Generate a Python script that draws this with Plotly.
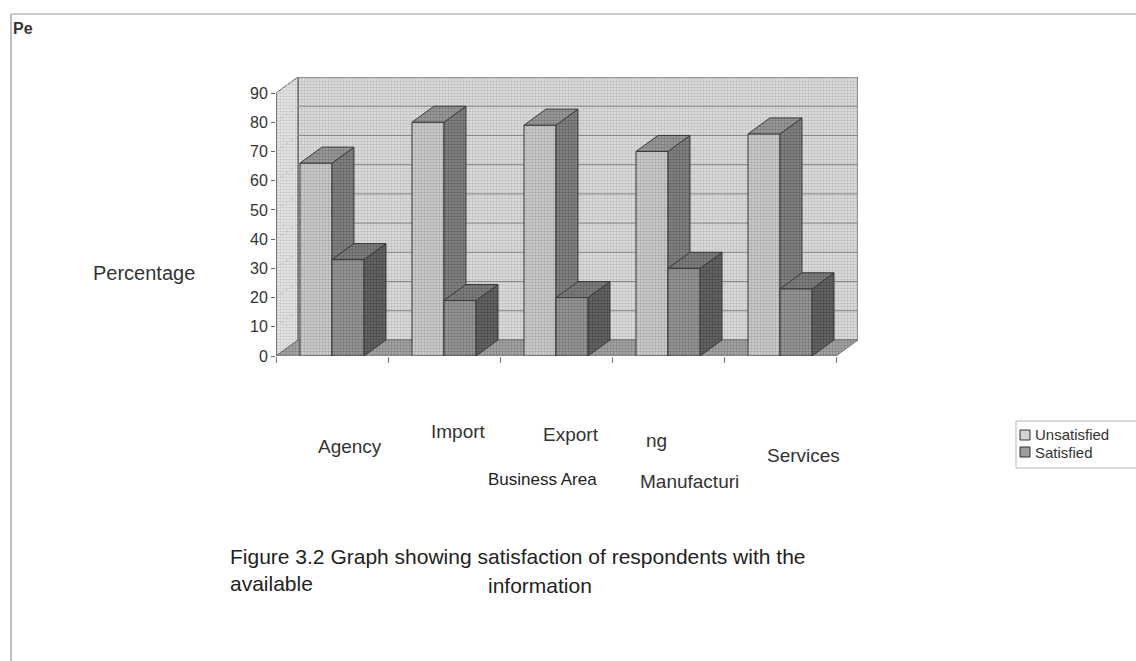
import plotly.graph_objects as go

# ---- data -------------------------------------------------------------
business_areas = ["Agency", "Import", "Export", "Manufacturing", "Services"]
unsatisfied = [66, 80, 79, 70, 76]
satisfied = [33, 19, 20, 30, 23]
series_names = ["Unsatisfied", "Satisfied"]
value_ticks = [0, 10, 20, 30, 40, 50, 60, 70, 80, 90]
# category captions as they are printed under the chart (one wraps)
axis_captions = ["Agency", "Import", "Export", "ng", "Services"]
wrapped_caption = "Manufacturi"

# ---- geometry of the pseudo-3D box -------------------------------------
W, H = 1136, 661
ML, MR, MT, MB = 276, 278, 77, 305
PW = W - ML - MR
PH = H - MT - MB
BAR_W = 0.286          # width of one bar, in category units
DX, DY = 0.196, 5.48   # depth offset (category units, value units)
VMAX = value_ticks[-1]
X0, X1 = -0.5, len(business_areas) - 0.5

FONT = "Liberation Sans, Arial, sans-serif"
EDGE = "#3a3a3a"


def px(xpix):
    return (xpix - ML) / PW


def py(ypix):
    return (H - MB - ypix) / PH


def polys(shapes):
    xs, ys = [], []
    for shp in shapes:
        for (a, b) in shp + [shp[0]]:
            xs.append(a)
            ys.append(b)
        xs.append(None)
        ys.append(None)
    return xs, ys


def face(shapes, fg, bg, lw=1, lc=EDGE, size=3, solid=0.5):
    xs, ys = polys(shapes)
    return go.Scatter(
        x=xs, y=ys, mode="lines", fill="toself",
        fillcolor=bg,
        fillpattern=dict(shape=".", fgcolor=fg, bgcolor=bg, size=size, solidity=solid),
        line=dict(color=lc, width=lw), hoverinfo="skip", showlegend=False,
    )


fig = go.Figure()

# back wall, left wall, floor
back = [[(X0 + DX, DY), (X1 + DX, DY), (X1 + DX, VMAX + DY), (X0 + DX, VMAX + DY)]]
left = [[(X0, 0), (X0 + DX, DY), (X0 + DX, VMAX + DY), (X0, VMAX)]]
floor = [[(X0, 0), (X1, 0), (X1 + DX, DY), (X0 + DX, DY)]]
fig.add_trace(face(back, "#9c9c9c", "#e2e2e2", lc="#555"))
fig.add_trace(face(left, "#a8a8a8", "#eaeaea", lc="#555"))
fig.add_trace(face(floor, "#5a5a5a", "#adadad", lc="#777"))

# gridlines on the back wall and their slants on the left wall
gx, gy, sx, sy = [], [], [], []
for v in value_ticks[1:-1]:
    gx += [X0 + DX, X1 + DX, None]
    gy += [v + DY, v + DY, None]
for v in value_ticks[1:]:
    sx += [X0, X0 + DX, None]
    sy += [v, v + DY, None]
fig.add_trace(go.Scatter(x=gx, y=gy, mode="lines", line=dict(color="#858585", width=1),
                         hoverinfo="skip", showlegend=False))
fig.add_trace(go.Scatter(x=sx, y=sy, mode="lines", line=dict(color="#bcbcbc", width=1, dash="dot"),
                         hoverinfo="skip", showlegend=False))
# front value axis line
fig.add_trace(go.Scatter(x=[X0, X0], y=[0, VMAX], mode="lines", line=dict(color="#555", width=1),
                         hoverinfo="skip", showlegend=False))


def bar_faces(values, shift):
    fronts, sides, tops = [], [], []
    for i, v in enumerate(values):
        a = i + shift
        b = a + BAR_W
        fronts.append([(a, 0), (b, 0), (b, v), (a, v)])
        sides.append([(b, 0), (b + DX, DY), (b + DX, v + DY), (b, v)])
        tops.append([(a, v), (b, v), (b + DX, v + DY), (a + DX, v + DY)])
    return fronts, sides, tops


styles = {
    "Unsatisfied": dict(front=("#808080", "#d4d4d4"), side=("#404040", "#8a8a8a"),
                        top=("#505050", "#a2a2a2")),
    "Satisfied": dict(front=("#505050", "#9e9e9e"), side=("#2c2c2c", "#6a6a6a"),
                      top=("#3c3c3c", "#868686")),
}

for name, vals, shift in [(series_names[0], unsatisfied, -BAR_W), (series_names[1], satisfied, 0.0)]:
    f, s, t = bar_faces(vals, shift)
    st = styles[name]
    fig.add_trace(face(f, *st["front"]))
    fig.add_trace(face(s, *st["side"]))
    fig.add_trace(face(t, *st["top"]))

# ---- text -------------------------------------------------------------
ann = []
label_pos = [(350, 446), (458, 431), (571, 434), (656, 441), (803, 455)]
for txt, (xx, yy) in zip(axis_captions, label_pos):
    ann.append(dict(text=txt, x=px(xx), y=py(yy), font=dict(size=19)))
ann.append(dict(text=wrapped_caption, x=px(689), y=py(481), font=dict(size=19)))
ann.append(dict(text="Business Area", x=px(542), y=py(479), font=dict(size=17, color="#222")))
ann.append(dict(text="Percentage", x=px(144), y=py(273), font=dict(size=20)))
ann.append(dict(text="<b>Pe</b>", x=px(11), y=py(28), xanchor="left", font=dict(size=16, color="#333")))
ann.append(dict(text="Figure 3.2 Graph showing satisfaction of respondents with the",
                x=px(228), y=py(556), xanchor="left", font=dict(size=21, color="#222")))
ann.append(dict(text="available", x=px(228), y=py(583), xanchor="left", font=dict(size=21, color="#222")))
ann.append(dict(text="information", x=px(486), y=py(585), xanchor="left", font=dict(size=21, color="#222")))

# legend drawn as a framed key
LEG_X, LEG_TOP, LEG_BOT = 1016, 421, 468
row_y = [435, 452]
shapes = [
    dict(type="line", xref="paper", yref="paper", x0=px(11), x1=px(W), y0=py(14), y1=py(14),
         line=dict(color="#9a9a9a", width=1)),
    dict(type="line", xref="paper", yref="paper", x0=px(11), x1=px(11), y0=py(14), y1=py(H),
         line=dict(color="#aaaaaa", width=1.5)),
    dict(type="rect", xref="paper", yref="paper", x0=px(LEG_X), x1=px(W + 5),
         y0=py(LEG_BOT), y1=py(LEG_TOP), line=dict(color="#b8b8b8", width=1), fillcolor="white"),
]
for name, yy in zip(series_names, row_y):
    fg, bg = styles[name]["front"]
    shapes.append(dict(type="rect", xref="paper", yref="paper", x0=px(1020), x1=px(1030),
                       y0=py(yy + 5), y1=py(yy - 5), line=dict(color="#333", width=1),
                       fillcolor=bg))
    ann.append(dict(text=name, x=px(1033), y=py(yy), xanchor="left", font=dict(size=15)))

for a in ann:
    a.setdefault("xanchor", "center")
    a.update(xref="paper", yref="paper", yanchor="middle", showarrow=False)
    a["font"].setdefault("color", "#333")
    a["font"]["family"] = FONT

fig.update_layout(
    width=W, height=H,
    margin=dict(l=ML, r=MR, t=MT, b=MB, autoexpand=False),
    paper_bgcolor="white", plot_bgcolor="rgba(0,0,0,0)",
    font=dict(family=FONT, color="#333"),
    annotations=ann, shapes=shapes,
    showlegend=False,
)
fig.update_xaxes(range=[X0, X1 + DX], showgrid=False, zeroline=False, showline=False,
                 tickvals=[i - 0.5 for i in range(len(business_areas) + 1)],
                 ticks="outside", ticklen=6, tickcolor="#777", showticklabels=False, fixedrange=True)
fig.update_yaxes(range=[0, VMAX + DY], showgrid=False, zeroline=False, showline=False,
                 tickvals=value_ticks, ticks="outside", ticklen=4, tickcolor="#666",
                 tickfont=dict(size=16, color="#333"), fixedrange=True)

fig.write_html("out.html")
